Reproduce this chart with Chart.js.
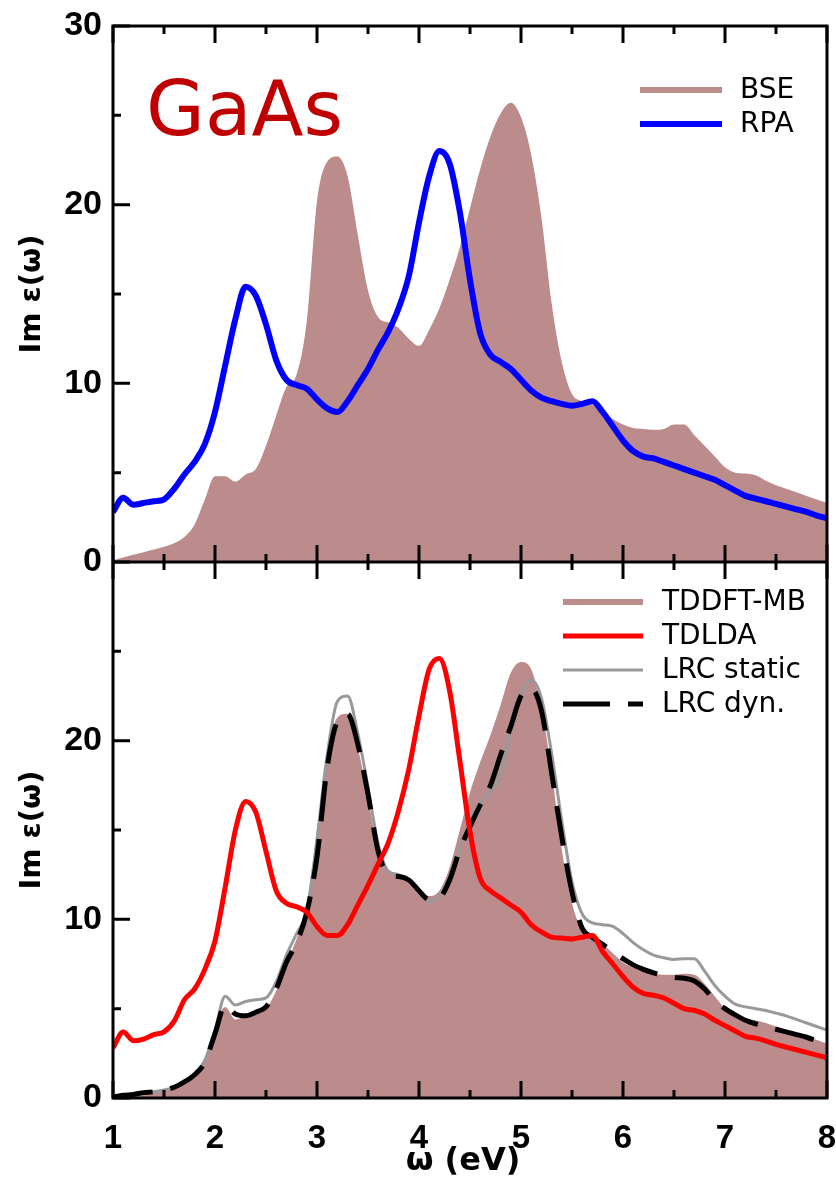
<!DOCTYPE html>
<html>
<head>
<meta charset="utf-8">
<title>GaAs — Im ε(ω)</title>
<script src="https://cdn.jsdelivr.net/npm/chart.js@4/dist/chart.umd.min.js"></script>
<style>
  html, body { margin: 0; padding: 0; background: #fff; overflow: hidden; }
  canvas { display: block; }
</style>
</head>
<body>
<canvas id="grafico" width="836" height="1179"></canvas>
<script>
// Espectros de absorción de GaAs: panel superior BSE / RPA,
// panel inferior TDDFT-MB / TDLDA / LRC.

const omega = [
  1.0, 1.1, 1.2, 1.3, 1.4, 1.5, 1.6, 1.7, 1.8, 1.9,
  2.0, 2.1, 2.2, 2.3, 2.4, 2.5, 2.6, 2.7, 2.8, 2.9,
  3.0, 3.1, 3.2, 3.3, 3.4, 3.5, 3.6, 3.7, 3.8, 3.9,
  4.0, 4.1, 4.2, 4.3, 4.4, 4.5, 4.6, 4.7, 4.8, 4.9,
  5.0, 5.1, 5.2, 5.3, 5.4, 5.5, 5.6, 5.7, 5.8, 5.9,
  6.0, 6.1, 6.2, 6.3, 6.4, 6.5, 6.6, 6.7, 6.8, 6.9,
  7.0, 7.1, 7.2, 7.3, 7.4, 7.5, 7.6, 7.7, 7.8, 7.9,
  8.0,
];

// --- panel superior ---
const bse = [
  0.1, 0.25, 0.4, 0.55, 0.7, 0.85, 1.05, 1.4, 2.1, 3.5,
  4.8, 4.8, 4.5, 4.9, 5.2, 6.5, 8.2, 9.8, 10.5, 13.5,
  20.2, 22.4, 22.7, 21.6, 18.3, 15.2, 13.7, 13.4, 13.1, 12.5,
  12.1, 13.0, 14.2, 15.8, 17.6, 19.8, 22.0, 23.8, 25.1, 25.7,
  24.9, 22.8, 19.3, 14.5, 11.2, 9.4, 9.0, 8.8, 8.4, 8.0,
  7.7, 7.5, 7.45, 7.4, 7.45, 7.7, 7.7, 7.1, 6.5, 5.9,
  5.3, 5.0, 4.95, 4.85, 4.55, 4.3, 4.1, 3.9, 3.7, 3.5,
  3.3,
];
const rpa = [
  2.8, 3.6, 3.2, 3.3, 3.4, 3.5, 4.1, 4.9, 5.6, 6.6,
  8.4, 11.0, 13.6, 15.4, 14.9, 13.3, 11.3, 10.2, 9.9, 9.7,
  9.1, 8.6, 8.4, 9.0, 9.9, 10.8, 11.9, 12.9, 14.2, 16.0,
  19.0, 21.6, 23.0, 22.3, 19.6, 15.8, 12.8, 11.6, 11.2, 10.8,
  10.2, 9.6, 9.2, 9.0, 8.85, 8.75, 8.85, 9.0, 8.4, 7.6,
  6.8, 6.2, 5.9, 5.8, 5.6, 5.4, 5.2, 5.0, 4.8, 4.6,
  4.3, 4.0, 3.7, 3.55, 3.4, 3.25, 3.1, 2.95, 2.8, 2.6,
  2.45,
];

// --- panel inferior ---
const tddftMb = [
  0.1, 0.15, 0.25, 0.3, 0.4, 0.5, 0.7, 1.0, 1.4, 2.2,
  4.0, 5.1, 4.4, 4.6, 4.8, 5.0, 6.0, 7.5, 8.9, 10.6,
  15.0, 19.2, 21.3, 21.5, 19.6, 16.8, 13.9, 12.7, 12.5, 12.2,
  11.6, 11.3, 11.6, 12.9, 15.0, 17.1, 18.8, 20.3, 22.0, 23.8,
  24.4, 24.0, 21.8, 18.3, 13.9, 10.9, 9.4, 9.0, 8.6, 8.1,
  7.6, 7.3, 7.1, 6.95, 6.9, 6.9, 6.95, 6.9, 6.4, 5.7,
  5.0, 4.6, 4.45, 4.35, 4.2, 4.0, 3.8, 3.65, 3.45, 3.25,
  3.05,
];
const tdlda = [
  2.8, 3.7, 3.2, 3.3, 3.55, 3.7, 4.3, 5.5, 6.1, 7.2,
  8.8, 11.8, 15.0, 16.6, 16.0, 13.8, 11.6, 10.9, 10.7, 10.4,
  9.6, 9.1, 9.1, 9.7, 10.8, 11.9, 13.1, 14.3, 16.1, 18.4,
  21.4, 24.0, 24.6, 22.8, 18.9, 14.9, 12.3, 11.6, 11.2, 10.8,
  10.4, 9.7, 9.3, 9.0, 8.95, 8.9, 9.0, 9.1, 8.2, 7.5,
  6.8, 6.2, 5.85, 5.75, 5.6, 5.3, 5.0, 4.9, 4.7, 4.35,
  4.05, 3.75, 3.45, 3.35, 3.2, 3.0, 2.85, 2.7, 2.55, 2.4,
  2.25,
];
const lrcStatic = [
  0.05, 0.15, 0.2, 0.3, 0.35, 0.45, 0.6, 0.9, 1.3, 2.1,
  3.8, 5.7, 5.2, 5.4, 5.5, 5.6, 6.5, 8.0, 9.2, 10.5,
  14.5, 19.2, 22.2, 22.5, 20.4, 17.4, 14.2, 12.7, 12.5, 12.2,
  11.5, 11.0, 11.3, 12.4, 13.9, 15.6, 16.5, 17.2, 18.0, 20.5,
  22.6, 23.4, 22.4, 19.3, 15.5, 12.1, 10.3, 9.8, 9.7, 9.6,
  9.2, 8.7, 8.3, 8.0, 7.85, 7.75, 7.8, 7.8, 7.1, 6.3,
  5.7, 5.25, 5.1, 5.0, 4.9, 4.75, 4.6, 4.4, 4.2, 4.0,
  3.8,
];
const lrcDyn = [
  0.05, 0.15, 0.2, 0.3, 0.35, 0.45, 0.6, 0.9, 1.3, 2.0,
  3.6, 5.2, 4.7, 4.6, 4.8, 5.1, 6.1, 7.6, 8.7, 10.4,
  13.5, 18.5, 21.1, 21.5, 19.8, 17.0, 13.8, 12.5, 12.4, 12.2,
  11.6, 11.1, 11.2, 12.2, 13.9, 15.2, 16.4, 17.5, 19.2, 20.8,
  22.5, 22.9, 21.7, 18.2, 14.6, 11.5, 9.5, 9.0, 8.6, 8.2,
  7.8, 7.45, 7.2, 7.0, 6.85, 6.75, 6.7, 6.55, 6.1, 5.45,
  5.0, 4.65, 4.35, 4.15, 4.0, 3.85, 3.7, 3.55, 3.4, 3.2,
  3.0,
];

const ticksX = [1, 2, 3, 4, 5, 6, 7, 8];
const ticksY = [0, 10, 20, 30];

const COLOR_RELLENO = '#bb8c8b';
const puntos = (valores) => omega.map((w, i) => ({ x: w, y: valores[i] }));

// marco, marcas hacia dentro, leyendas y textos sueltos
const marcoPlugin = {
  id: 'marco',
  afterDatasetsDraw(chart) {
    const { ctx, chartArea: a, scales } = chart;
    const { x, yTop, yBot } = scales;
    ctx.save();
    ctx.strokeStyle = '#000';
    ctx.lineWidth = 3;
    ctx.lineCap = 'butt';

    ctx.strokeRect(a.left, a.top, a.right - a.left, a.bottom - a.top);
    ctx.beginPath();
    ctx.moveTo(a.left, yTop.bottom);
    ctx.lineTo(a.right, yTop.bottom);
    ctx.stroke();

    ctx.beginPath();
    for (let v = ticksX[0]; v <= ticksX[ticksX.length - 1]; v += 0.5) {
      const px = x.getPixelForValue(v);
      const largo = ticksX.includes(v) ? 17 : 8;
      [[yTop.top, 1], [yTop.bottom, -1], [yBot.top, 1], [yBot.bottom, -1]].forEach(([py, dir]) => {
        ctx.moveTo(px, py);
        ctx.lineTo(px, py + dir * largo);
      });
    }
    [yTop, yBot].forEach((s) => {
      for (let v = 0; v <= 30; v += 5) {
        const py = s.getPixelForValue(v);
        const largo = ticksY.includes(v) ? 17 : 8;
        ctx.moveTo(a.left, py);
        ctx.lineTo(a.left + largo, py);
      }
    });
    ctx.stroke();
    ctx.restore();
  },
  afterDraw(chart) {
    const { ctx, data } = chart;
    ctx.save();

    // leyendas
    const leyenda = (ejeId, x0, x1, xTexto, yInicio, paso) => {
      const entradas = data.datasets.filter((d) => d.yAxisID === ejeId);
      entradas.forEach((d, i) => {
        const y = yInicio + i * paso;
        ctx.beginPath();
        ctx.strokeStyle = d.fill ? d.backgroundColor : d.borderColor;
        ctx.lineWidth = d.fill ? 6 : d.borderWidth;
        ctx.setLineDash(d.borderDash ? [47, 18] : []);
        ctx.moveTo(x0, y);
        ctx.lineTo(x1, y);
        ctx.stroke();
        ctx.setLineDash([]);
        ctx.fillStyle = '#000';
        ctx.font = '28px "DejaVu Sans"';
        ctx.textBaseline = 'middle';
        ctx.textAlign = 'left';
        ctx.fillText(d.label, xTexto, y + 1);
      });
    };
    leyenda('yTop', 640, 722, 740, 90, 34);
    leyenda('yBot', 563, 643, 662, 602, 34);

    ctx.fillStyle = '#c00000';
    ctx.font = '76px "DejaVu Sans"';
    ctx.textAlign = 'left';
    ctx.textBaseline = 'alphabetic';
    ctx.fillText('GaAs', 146, 135);

    ctx.fillStyle = '#000';
    ctx.font = 'bold 32px "DejaVu Sans"';
    ctx.textAlign = 'center';
    ctx.textBaseline = 'middle';
    ctx.fillText('ω (eV)', 463, 1162);
    ctx.restore();
  },
};

const fuenteTicks = { family: '"Liberation Sans", Arial, sans-serif', size: 34, weight: 'bold' };
const tituloY = {
  display: true,
  text: 'Im ε(ω)',
  color: '#000',
  font: { family: '"DejaVu Sans", sans-serif', size: 29, weight: 'bold' },
  padding: { top: 15, bottom: 0 },
};

function ejeY(peso, etiqueta) {
  return {
    type: 'linear',
    position: 'left',
    stack: 'paneles',
    stackWeight: 1,
    weight: peso,
    min: 0,
    max: 30,
    afterFit: (s) => { s.width = 113; s.paddingTop = 0; s.paddingBottom = 0; },
    grid: { display: false, drawTicks: false },
    border: { display: false },
    ticks: { stepSize: 5, autoSkip: false, padding: 11, color: '#000', font: fuenteTicks, callback: etiqueta },
    title: tituloY,
  };
}

new Chart(document.getElementById('grafico'), {
  type: 'line',
  data: {
    datasets: [
      { label: 'BSE', yAxisID: 'yTop', data: puntos(bse), fill: 'origin', backgroundColor: COLOR_RELLENO, borderColor: COLOR_RELLENO, borderWidth: 0, order: 10 },
      { label: 'RPA', yAxisID: 'yTop', data: puntos(rpa), borderColor: '#0000ff', borderWidth: 6, fill: false, order: 0 },
      { label: 'TDDFT-MB', yAxisID: 'yBot', data: puntos(tddftMb), fill: 'origin', backgroundColor: COLOR_RELLENO, borderColor: COLOR_RELLENO, borderWidth: 0, order: 10 },
      { label: 'TDLDA', yAxisID: 'yBot', data: puntos(tdlda), borderColor: '#ff0000', borderWidth: 5, fill: false, order: 0 },
      { label: 'LRC static', yAxisID: 'yBot', data: puntos(lrcStatic), borderColor: '#999999', borderWidth: 3, fill: false, order: 2 },
      { label: 'LRC dyn.', yAxisID: 'yBot', data: puntos(lrcDyn), borderColor: '#000000', borderWidth: 5, borderDash: [40, 18], fill: false, order: 1 },
    ],
  },
  options: {
    responsive: false,
    animation: false,
    devicePixelRatio: 1,
    layout: { padding: { top: 26, right: 9, left: 0, bottom: 0 } },
    elements: {
      point: { radius: 0, hoverRadius: 0 },
      line: { cubicInterpolationMode: 'monotone', borderCapStyle: 'butt' },
    },
    plugins: { legend: { display: false }, tooltip: { enabled: false } },
    scales: {
      x: {
        type: 'linear',
        min: 1,
        max: 8,
        afterFit: (s) => { s.height = 81; s.paddingLeft = 0; s.paddingRight = 0; },
        grid: { display: false, drawTicks: false },
        border: { display: false },
        ticks: { stepSize: 1, padding: 21, color: '#000', font: { ...fuenteTicks, size: 33 } },
      },
      yBot: ejeY(1, (v) => (v % 10 === 0 && v < 30 ? v : '')),
      yTop: ejeY(2, (v) => (v % 10 === 0 ? v : '')),
    },
  },
  plugins: [marcoPlugin],
});
</script>
</body>
</html>
